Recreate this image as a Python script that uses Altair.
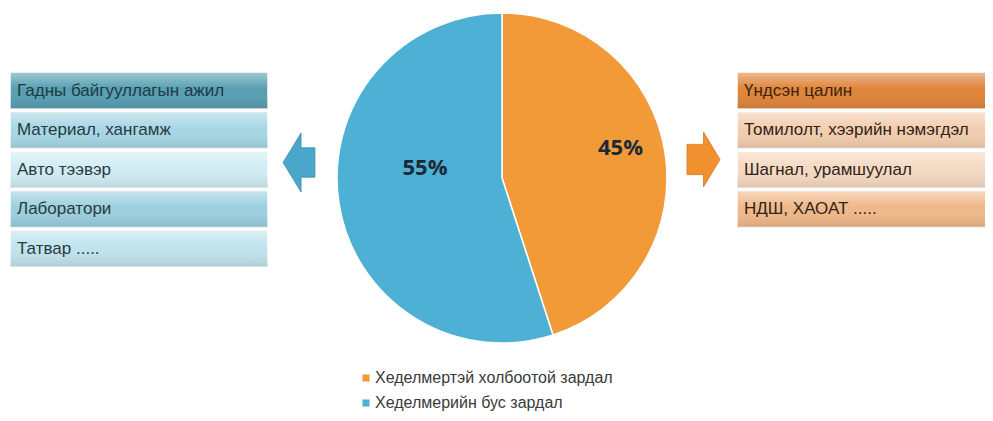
import altair as alt
import pandas as pd

# ---------------- data ----------------
left_items = ["Гадны байгууллагын ажил", "Материал, хангамж", "Авто тээвэр",
              "Лаборатори", "Татвар ....."]
right_items = ["Үндсэн цалин", "Томилолт, хээрийн нэмэгдэл",
               "Шагнал, урамшуулал", "НДШ, ХАОАТ ....."]
categories = ["Хеделмертэй холбоотой зардал", "Хеделмерийн бус зардал"]
shares = [45, 55]
share_labels = ["45%", "55%"]

# ---------------- styles ----------------
left_fills = ["#579fb2", "#a6d7e5", "#d1ecf4", "#9bcfdf", "#c0e3ed"]
left_text = ["#1f3a42", "#2a3a40", "#2a3a40", "#2a3a40", "#2a3a40"]
right_fills = ["#e0843a", "#f3cdae", "#f5d9c1", "#f0b889"]
right_text = ["#3a2410", "#2e241c", "#2e241c", "#2e241c"]
pie_colors = ["#f29a38", "#4fb0d6"]

ROW0, STEP, ROWH = 72, 39.5, 37


def boxes(items, fills, tcols, x0, x1):
    df = pd.DataFrame({"item": items, "fill": fills, "tcol": tcols})
    df["i"] = range(len(items))
    df["x0"] = x0
    df["x1"] = x1
    df["y0"] = ROW0 + df["i"] * STEP
    df["y1"] = df["y0"] + ROWH
    df["ym"] = (df["y0"] + df["y1"]) / 2
    df["tx"] = x0 + 7
    return df


left_df = boxes(left_items, left_fills, left_text, 10, 268)
right_df = boxes(right_items, right_fills, right_text, 737, 986)
box_df = pd.concat([left_df, right_df], ignore_index=True)

pie_df = pd.DataFrame({"cat": categories, "share": shares,
                       "label": share_labels, "ord": [0, 1]})

xs = alt.Scale(domain=[8, 985])
ys = alt.Scale(domain=[8, 413], reverse=True)
X = lambda f: alt.X(f, type="quantitative", scale=xs, axis=None)
Y = lambda f: alt.Y(f, type="quantitative", scale=ys, axis=None)

bevel = {"gradient": "linear", "x1": 0, "y1": 0, "x2": 0, "y2": 1,
         "stops": [{"offset": 0, "color": "rgba(255,255,255,0.45)"},
                   {"offset": 0.45, "color": "rgba(255,255,255,0.0)"},
                   {"offset": 1, "color": "rgba(0,0,0,0.10)"}]}

rects = alt.Chart(box_df).mark_rect(stroke="#ffffff", strokeWidth=1.5).encode(
    x=X("x0"), x2="x1", y=Y("y0"), y2="y1",
    fill=alt.Fill("fill:N", scale=None))
shine = alt.Chart(box_df).mark_rect(fill=bevel, strokeWidth=0).encode(
    x=X("x0"), x2="x1", y=Y("y0"), y2="y1")
texts = alt.Chart(box_df).mark_text(
    align="left", baseline="middle", font="Liberation Sans", fontSize=17
).encode(x=X("tx"), y=Y("ym"), text="item:N",
         color=alt.Color("tcol:N", scale=None))

# arrows
arrow_df = pd.DataFrame({"side": ["left", "right"]})
left_arrow = alt.Chart(arrow_df).transform_filter(alt.datum.side == "left").mark_point(
    shape="M-0.54,0 L0.07,-1 L0.07,-0.5 L0.54,-0.5 L0.54,0.5 L0.07,0.5 L0.07,1 Z",
    size=3481, filled=True, opacity=1, color="#4aa7c9", stroke="#3b8fb0", strokeWidth=0.8
).encode(x=alt.datum(299, type="quantitative", scale=xs),
         y=alt.datum(162.5, type="quantitative", scale=ys))
right_arrow = alt.Chart(arrow_df).transform_filter(alt.datum.side == "right").mark_point(
    shape="M-0.6,-0.55 L0,-0.55 L0,-1 L0.6,0 L0,1 L0,0.55 L-0.6,0.55 Z",
    size=3025, filled=True, opacity=1, color="#f0902e", stroke="#d97a1e", strokeWidth=0.8
).encode(x=alt.datum(703.5, type="quantitative", scale=xs),
         y=alt.datum(159.5, type="quantitative", scale=ys))

# pie
cx = alt.datum(502, type="quantitative", scale=xs)
cy = alt.datum(178, type="quantitative", scale=ys)
pie = alt.Chart(pie_df).mark_arc(outerRadius=165, stroke="#ffffff", strokeWidth=1.5).encode(
    theta=alt.Theta("share:Q", stack=True),
    order=alt.Order("ord:Q"),
    x=cx, y=cy,
    color=alt.Color("cat:N", scale=alt.Scale(domain=categories, range=pie_colors),
                    legend=alt.Legend(orient="none", legendX=350, legendY=362, title=None,
                                      symbolType="square", symbolSize=50,
                                      symbolStrokeWidth=0, labelFontSize=16,
                                      labelFont="Liberation Sans", labelColor="#3a3a3a",
                                      labelOffset=1, labelLimit=400, rowPadding=9,
                                      padding=0)))

def pct(i, r, dy):
    return alt.Chart(pie_df).mark_text(
        radius=r, dy=dy, font="Open Sans", fontWeight="bold", fontSize=22,
        color="#1c2a38"
    ).encode(theta=alt.Theta("share:Q", stack=True), order=alt.Order("ord:Q"),
             x=cx, y=cy,
             text=alt.condition(alt.datum.ord == i, "label:N", alt.value("")))

chart = alt.layer(rects, shine, texts, left_arrow, right_arrow, pie,
                  pct(0, 120, -11), pct(1, 78, -22)).properties(
    width=977, height=405, padding=0, autosize=alt.AutoSizeParams(type="none"),
    background="#ffffff"
).configure_view(stroke=None)

chart.save("out.html", embed_options={"renderer": "svg", "actions": False})
